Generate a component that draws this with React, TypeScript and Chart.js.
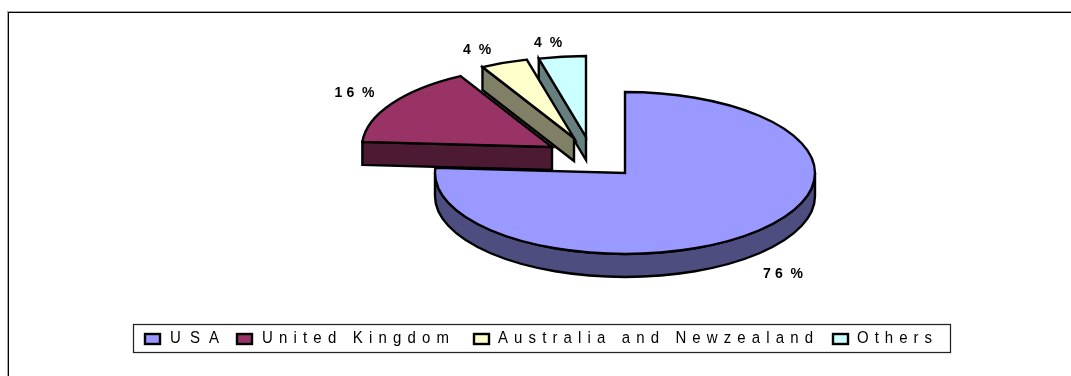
import { useEffect, useRef } from "react";
import { Chart, registerables } from "chart.js";

Chart.register(...registerables);

const categories = ["USA", "United Kingdom", "Australia and Newzealand", "Others"];
const shares = [76, 16, 4, 4];
const topColors = ["#9999FF", "#993366", "#FFFFCC", "#CCFFFF"];
const sideColors = ["#4D4D80", "#4D1A33", "#808066", "#668080"];

// Pulled-out distance of each wedge, in pixels on the page.
const explodeX = [0, -73, -51, -39];
const explodeY = [0, -26, -35, -36];

// Percent label placement relative to the wedge's rim midpoint.
const labelShiftX = [28, -37, -27, -14];
const labelShiftY = [42, -10, -13, -14];

// Legend layout: swatch left edge, text start, text end.
const legendSwatchX = [144, 236, 473, 832];
const legendTextStart = [170, 262, 498, 857];
const legendTextEnd = [219, 449, 813, 932];

const SQUASH = 0.426;
const DEPTH = 23;
const PAINT_ORDER = [0, 3, 2, 1];
const LEGEND_STRETCH = 1.1;

function drawWedge(ctx: CanvasRenderingContext2D, el: any, i: number) {
  const { x, y, startAngle, endAngle, outerRadius: r } = el.getProps(
    ["x", "y", "startAngle", "endAngle", "outerRadius"],
    true
  );
  const cx = x + explodeX[i];
  const cy = y + explodeY[i];
  const ry = r * SQUASH;
  const rimX = (a: number) => cx + r * Math.cos(a);
  const rimY = (a: number) => cy + ry * Math.sin(a);

  ctx.save();
  ctx.lineWidth = 2.4;
  ctx.strokeStyle = "#000";
  ctx.lineJoin = "miter";
  ctx.fillStyle = sideColors[i];

  const radialFace = (a: number) => {
    ctx.beginPath();
    ctx.moveTo(cx, cy);
    ctx.lineTo(rimX(a), rimY(a));
    ctx.lineTo(rimX(a), rimY(a) + DEPTH);
    ctx.lineTo(cx, cy + DEPTH);
    ctx.closePath();
    ctx.fill();
    ctx.stroke();
  };
  if (Math.cos(startAngle) < -1e-6) radialFace(startAngle);
  if (Math.cos(endAngle) > 1e-6) radialFace(endAngle);

  // Curved outer wall, only where the rim faces the viewer.
  const from = Math.max(startAngle, 0);
  const to = Math.min(endAngle, Math.PI);
  if (to > from) {
    ctx.beginPath();
    ctx.ellipse(cx, cy, r, ry, 0, from, to);
    ctx.ellipse(cx, cy + DEPTH, r, ry, 0, to, from, true);
    ctx.closePath();
    ctx.fill();
    ctx.stroke();
  }

  // Top face: the arc element itself, flattened into an ellipse.
  ctx.save();
  ctx.translate(cx, cy);
  ctx.scale(1, SQUASH);
  ctx.translate(-x, -y);
  el.draw(ctx);
  ctx.beginPath();
  ctx.moveTo(x, y);
  ctx.arc(x, y, r, startAngle, endAngle);
  ctx.closePath();
  ctx.restore();
  ctx.stroke();
  ctx.restore();
}

const pie3d = {
  id: "pie3d",
  beforeDraw(chart: Chart) {
    const { ctx, width, height } = chart;
    ctx.save();
    ctx.fillStyle = "#fff";
    ctx.fillRect(0, 0, width, height);
    ctx.fillStyle = "#a8a8a8";
    ctx.fillRect(7, 11, width - 7, 1);
    ctx.fillRect(7, 11, 1, height - 11);
    ctx.fillStyle = "#000";
    ctx.fillRect(8, 12, width - 8, 1);
    ctx.fillRect(8, 12, 1, height - 12);
    ctx.restore();
  },
  beforeDatasetDraw(chart: Chart) {
    const { ctx } = chart;
    const arcs = chart.getDatasetMeta(0).data;
    PAINT_ORDER.forEach((i) => drawWedge(ctx, arcs[i], i));
    return false;
  },
  afterDatasetsDraw(chart: Chart) {
    const { ctx } = chart;
    const arcs = chart.getDatasetMeta(0).data as any[];
    ctx.save();
    ctx.textBaseline = "middle";
    ctx.textAlign = "left";
    ctx.fillStyle = "#000";

    // Percent labels outside each wedge, widely tracked.
    ctx.font = "bold 14px 'Liberation Sans'";
    (ctx as any).letterSpacing = "4px";
    (ctx as any).wordSpacing = "-4px";
    arcs.forEach((el, i) => {
      const mid = (el.startAngle + el.endAngle) / 2;
      const r = el.outerRadius;
      const px = el.x + explodeX[i] + r * Math.cos(mid) + labelShiftX[i];
      const py = el.y + explodeY[i] + r * SQUASH * Math.sin(mid) + labelShiftY[i];
      const text = `${shares[i]} %`;
      const w = ctx.measureText(text).width - 4;
      ctx.fillText(text, px - w / 2, py);
    });
    (ctx as any).wordSpacing = "0px";

    // Boxed legend along the bottom.
    (ctx as any).letterSpacing = "0px";
    ctx.strokeStyle = "#222";
    ctx.lineWidth = 1.25;
    ctx.strokeRect(133.5, 324.5, 817, 28);
    ctx.font = "15px 'Liberation Sans'";
    ctx.textBaseline = "alphabetic";
    categories.forEach((name, i) => {
      ctx.fillStyle = topColors[i];
      ctx.lineWidth = 2.4;
      ctx.strokeStyle = "#000";
      ctx.fillRect(legendSwatchX[i] + 1, 334, 15, 10);
      ctx.strokeRect(legendSwatchX[i] + 1, 334, 15, 10);
      (ctx as any).letterSpacing = "0px";
      const natural = ctx.measureText(name).width;
      const track =
        (legendTextEnd[i] - legendTextStart[i] - natural) / (name.length - 1);
      (ctx as any).letterSpacing = `${track}px`;
      ctx.fillStyle = "#000";
      // Glyphs are drawn slightly taller than they are wide.
      ctx.save();
      ctx.translate(legendTextStart[i], 343);
      ctx.scale(1, LEGEND_STRETCH);
      ctx.fillText(name, 0, 0);
      ctx.restore();
    });
    ctx.restore();
  },
};

export default function App() {
  const canvasRef = useRef<HTMLCanvasElement>(null);

  useEffect(() => {
    const chart = new Chart(canvasRef.current!, {
      type: "pie",
      data: {
        labels: categories,
        datasets: [
          {
            data: shares,
            backgroundColor: topColors,
            borderWidth: 0,
            radius: 190,
          } as any,
        ],
      },
      options: {
        animation: false,
        responsive: false,
        events: [],
        layout: { padding: { left: 179, top: 0, right: 0, bottom: 30 } },
        plugins: {
          legend: { display: false },
          tooltip: { enabled: false },
        },
      },
      plugins: [pie3d],
    });
    return () => chart.destroy();
  }, []);

  return (
    <div style={{ position: "fixed", left: 0, top: 0, width: 1071, height: 376, overflow: "hidden" }}>
      <canvas ref={canvasRef} width={1071} height={376} style={{ display: "block" }} />
    </div>
  );
}
